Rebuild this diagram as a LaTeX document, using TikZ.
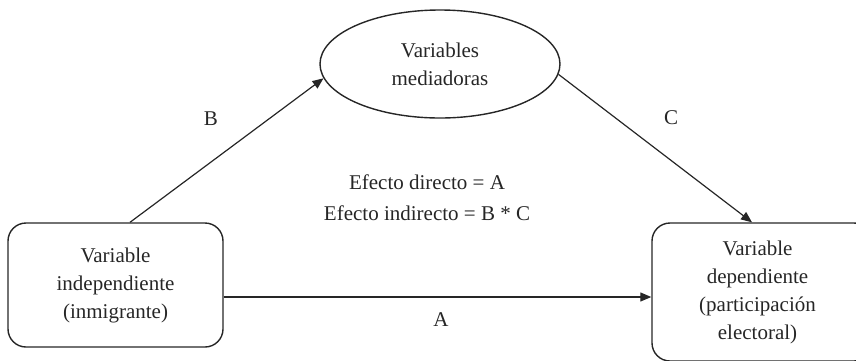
\documentclass[tikz,border=0pt]{standalone}
\usepackage{fontspec}
\setmainfont{Liberation Serif}
\usetikzlibrary{arrows.meta,shapes.geometric}
\begin{document}
\begin{tikzpicture}[x=1pt,y=-1pt,
  txt/.style={font=\fontsize{21}{28}\selectfont, text=black!85, inner sep=0pt},
  box/.style={txt, draw=black!85, line width=1.4pt, rounded corners=18pt, align=center},
  arr/.style={draw=black!85, line width=1.2pt, -{Triangle[length=11pt,width=9pt]}},
  lab/.style={txt}]
\useasboundingbox (0,0) rectangle (856,360);
\clip (0,0) rectangle (856,360);
\node[box, minimum width=215pt, minimum height=124pt] (L) at (115.5,285) {Variable\\independiente\\(inmigrante)};
\node[box, minimum width=220pt, minimum height=138pt] (R) at (762,292) {\hspace*{-9pt}\begin{tabular}{@{}c@{}}Variable\\dependiente\\(participación\\electoral)\end{tabular}};
\node[txt, draw=black!85, line width=1.4pt, ellipse, minimum width=240pt, minimum height=108pt, align=center] (M) at (440,64) {Variables\\mediadoras};
\draw[arr] ([xshift=14.5pt]L.north) -- (M.187);
\draw[arr] (M.355) -- ([xshift=-10pt]R.north);
\coordinate (As) at ([yshift=-12pt]L.east);
\draw[arr] (As) -- (As -| R.west);
\node[lab] (lB) at (211,119) {B};
\node[lab] (lC) at (671,118) {C};
\node[lab] (lA) at (441,320) {A};
\node[txt, align=center, font=\fontsize{21}{31}\selectfont] (E) at (427,197.5) {Efecto directo = A\\Efecto indirecto = B * C};
\end{tikzpicture}
\end{document}
